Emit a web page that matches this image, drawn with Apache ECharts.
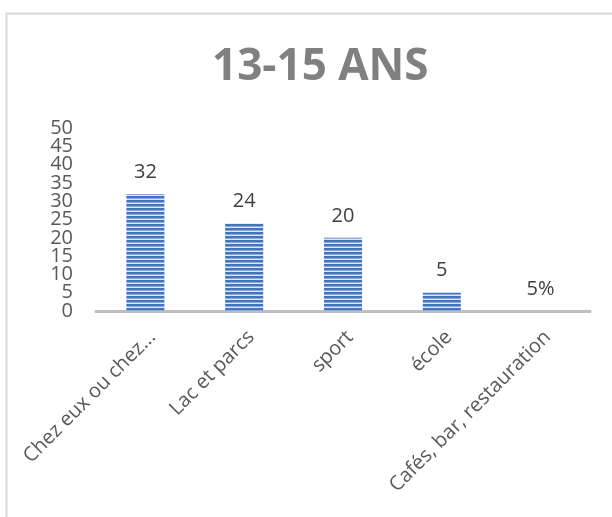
<!DOCTYPE html>
<html>
<head>
<meta charset="utf-8">
<script src="https://cdn.jsdelivr.net/npm/echarts@6/dist/echarts.min.js"></script>
<style>html,body{margin:0;padding:0;background:#fff}#c{width:612px;height:517px}</style>
</head>
<body>
<div id="c"></div>
<script>
const categories = ["Chez eux ou chez...", "Lac et parcs", "sport", "école", "Cafés, bar, restauration"];
const values = [32, 24, 20, 5, 0];
const valueLabels = ["32", "24", "20", "5", "5%"];
const yTicks = [0, 5, 10, 15, 20, 25, 30, 35, 40, 45, 50];

// striped pattern for bars
const pc = document.createElement('canvas');
pc.width = 8; pc.height = 4;
const g = pc.getContext('2d');
g.fillStyle = '#dfe7f5'; g.fillRect(0, 0, 8, 4);
g.fillStyle = '#4472c4'; g.fillRect(0, 0, 8, 2);
g.fillStyle = '#8eaadb'; g.fillRect(0, 2, 8, 1);

const yMin = yTicks[0], yMax = yTicks[yTicks.length - 1];
function yAxisDef(keepEven) {
  return {
    type: 'value', position: 'left', offset: 0,
    min: yMin, max: yMax, interval: 5,
    axisLine: {show: false},
    axisTick: {show: false},
    splitLine: {show: false},
    axisLabel: {
      margin: 23, fontFamily: 'Open Sans', fontSize: 20, color: '#595959',
      showMinLabel: true, showMaxLabel: true,
      formatter: v => ((v / 5) % 2 === 0) === keepEven ? String(v) : ''
    }
  };
}

const chart = echarts.init(document.getElementById('c'), null, {renderer: 'canvas'});
chart.setOption({
  animation: false,
  backgroundColor: '#fff',
  title: {
    text: '13-15 ANS',
    left: 207,
    top: 40,
    textStyle: {fontFamily: 'Open Sans', fontWeight: 'bold', fontSize: 44, color: '#808080'}
  },
  graphic: [{
    type: 'rect', shape: {x: 6.5, y: 13.5, width: 620, height: 520},
    style: {fill: 'none', stroke: '#d9d9d9', lineWidth: 2}, silent: true, z: -1
  }],
  grid: {left: 96, right: 22, top: 128, bottom: 206, containLabel: false},
  xAxis: {
    type: 'category',
    data: categories,
    axisLine: {lineStyle: {color: '#bfbfbf', width: 3}},
    axisTick: {show: false},
    axisLabel: {
      rotate: 45, interval: 0, margin: 16, verticalAlign: 'top', lineHeight: 20,
      fontFamily: 'Open Sans', fontSize: 20, color: '#595959'
    }
  },
  yAxis: [yAxisDef(true), yAxisDef(false)],
  series: [{
    type: 'bar',
    data: values,
    barWidth: 38,
    yAxisIndex: 0,
    itemStyle: {color: {image: pc, repeat: 'repeat'}},
    label: {
      show: true, position: 'top', distance: 12,
      fontFamily: 'Open Sans', fontSize: 20, color: '#404040',
      formatter: p => valueLabels[p.dataIndex]
    }
  }]
});
</script>
</body>
</html>
